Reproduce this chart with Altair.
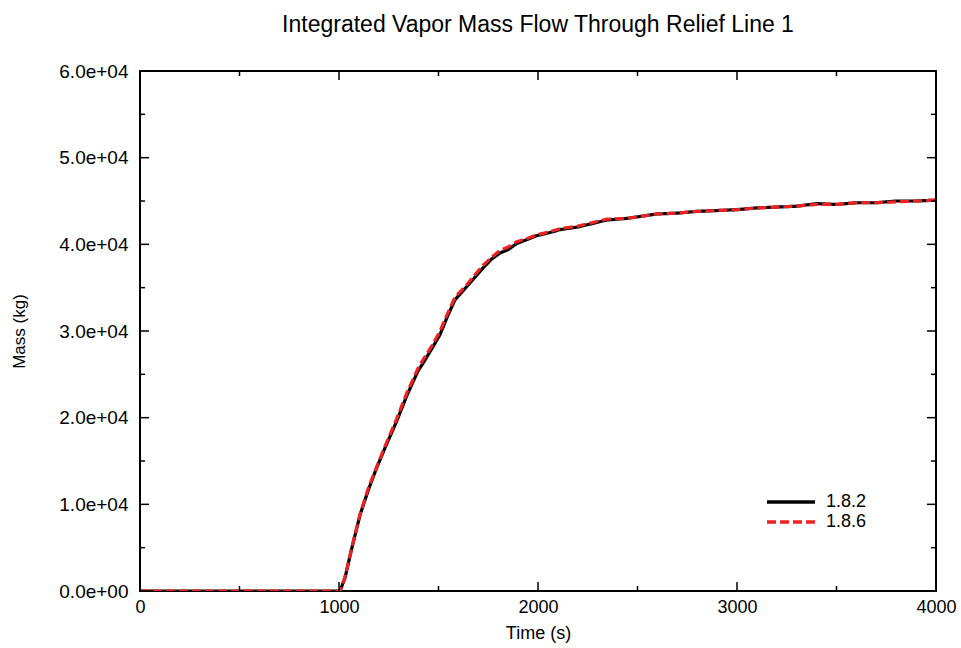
import altair as alt
import pandas as pd

# ---- data ----
time = [0, 200, 400, 600, 800, 1000, 1005, 1030, 1064, 1106, 1148, 1189, 1231, 1290,
        1340, 1397, 1423, 1470, 1508, 1545, 1583, 1641, 1683, 1725, 1767, 1809, 1851,
        1893, 1950, 1993, 2050, 2111, 2200, 2345, 2450, 2596, 2700, 2797, 2900, 2998,
        3100, 3199, 3300, 3400, 3500, 3601, 3700, 3802, 3900, 4000]
mass_182 = [0, 0, 0, 0, 0, 0, 0, 1500, 4900, 8800, 11700, 14200, 16500, 19600,
            22500, 25400, 26300, 28100, 29600, 31700, 33600, 35100, 36200, 37300, 38300,
            39000, 39400, 40100, 40600, 41000, 41300, 41700, 42000, 42800, 43000, 43500,
            43600, 43800, 43900, 44000, 44200, 44300, 44400, 44700, 44600, 44800, 44800,
            45000, 45000, 45100]
mass_186 = [0, 0, 0, 0, 0, 0, 0, 1600, 5000, 8900, 11900, 14300, 16700, 19900,
            22800, 25700, 26700, 28400, 30000, 32000, 33900, 35300, 36500, 37600, 38500,
            39300, 39700, 40300, 40700, 41100, 41400, 41800, 42100, 42900, 43000, 43500,
            43600, 43800, 43900, 44000, 44200, 44300, 44400, 44600, 44600, 44800, 44800,
            44900, 45000, 45100]
series = ["1.8.2", "1.8.6"]
colors = ["#000000", "#ee2222"]

x_major = [0, 1000, 2000, 3000, 4000]
x_minor = [500, 1500, 2500, 3500]
y_major = [0, 10000, 20000, 30000, 40000, 50000, 60000]
y_minor = [5000, 15000, 25000, 35000, 45000, 55000]

W, H = 796, 520
FONT = "Liberation Sans"

df = pd.concat([
    pd.DataFrame({"Time": time, "Mass": mass_182, "Series": series[0]}),
    pd.DataFrame({"Time": time, "Mass": mass_186, "Series": series[1]}),
])

xscale = alt.Scale(domain=[0, 4000], nice=False, zero=False)
yscale = alt.Scale(domain=[0, 60000], nice=False, zero=False)

lines = alt.Chart(df).mark_line(strokeWidth=3.2, clip=True).encode(
    x=alt.X("Time:Q", scale=xscale,
            axis=alt.Axis(title="Time (s)", values=x_major, format="d", ticks=False,
                          domain=False, grid=False, labelFontSize=18, labelPadding=7,
                          titleFontSize=18, titleFontWeight="normal", titlePadding=8,
                          labelFont=FONT, titleFont=FONT, labelColor="black",
                          titleColor="black", labelFlush=False)),
    y=alt.Y("Mass:Q", scale=yscale,
            axis=alt.Axis(title="Mass (kg)", values=y_major, format=".1e", ticks=False,
                          domain=False, grid=False, labelFontSize=19, labelPadding=12,
                          titleFontSize=17, titleFontWeight="normal", titlePadding=30,
                          labelFont=FONT, titleFont=FONT, labelColor="black",
                          titleColor="black", labelFlush=False,
                          labelExpr="replace(format(datum.value, '.1e'), /e([+-])(\\d)$/, 'e$10$2')")),
    color=alt.Color("Series:N", scale=alt.Scale(domain=series, range=colors),
                    legend=alt.Legend(title=None, orient="none", legendX=625, legendY=421,
                                      symbolType="stroke", symbolSize=2300,
                                      symbolStrokeWidth=3.5, labelFontSize=18,
                                      labelFont=FONT, labelColor="black", labelOffset=9,
                                      clipHeight=20, rowPadding=0)),
    strokeDash=alt.StrokeDash("Series:N",
                              scale=alt.Scale(domain=series, range=[[1, 0], [9, 4]]),
                              legend=alt.Legend(title=None)),
    order=alt.Order("Time:Q"),
)


def tick_layer(values, axis, side, length):
    d = pd.DataFrame({"v": values})
    base = alt.Chart(d).mark_rule(color="black", strokeWidth=1.5)
    if axis == "x":
        y0 = H if side == "bottom" else 0
        y1 = H - length if side == "bottom" else length
        return base.encode(x=alt.X("v:Q", scale=xscale), y=alt.value(y0), y2=alt.value(y1))
    x0 = 0 if side == "left" else W
    x1 = length if side == "left" else W - length
    return base.encode(y=alt.Y("v:Q", scale=yscale), x=alt.value(x0), x2=alt.value(x1))


ticks = []
for side in ["bottom", "top"]:
    ticks.append(tick_layer(x_major, "x", side, 9))
    ticks.append(tick_layer(x_minor, "x", side, 5))
for side in ["left", "right"]:
    ticks.append(tick_layer(y_major, "y", side, 9))
    ticks.append(tick_layer(y_minor, "y", side, 5))

chart = alt.layer(lines, *ticks).properties(
    width=W, height=H,
    background="white",
    title=alt.Title("Integrated Vapor Mass Flow Through Relief Line 1", fontSize=23,
                    fontWeight="normal", font=FONT, color="black", offset=25),
    autosize=alt.AutoSizeParams(type="none"),
    padding={"left": 140, "top": 71, "right": 25, "bottom": 57},
).configure_view(stroke="black", strokeWidth=2)

chart.save("out.html", embed_options={"renderer": "svg", "actions": False})
